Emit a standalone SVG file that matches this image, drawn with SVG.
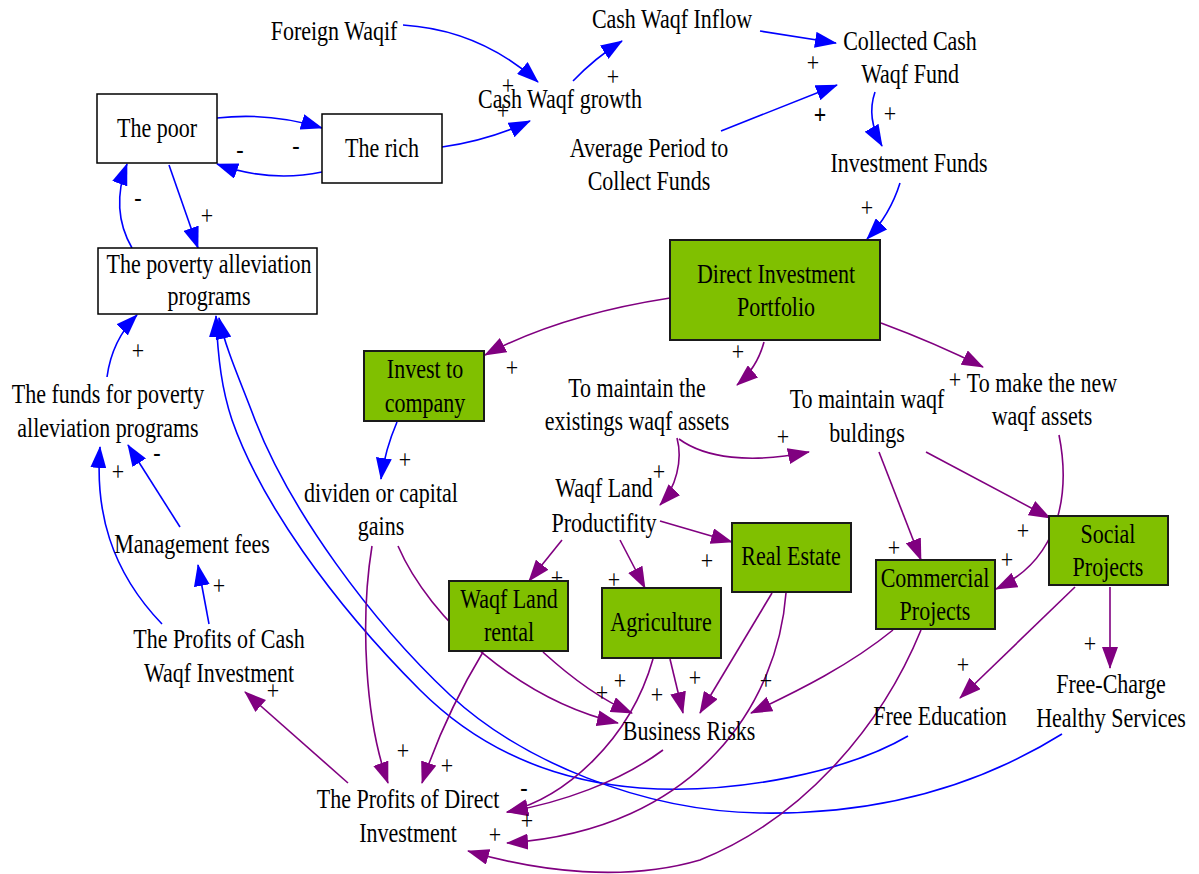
<svg xmlns="http://www.w3.org/2000/svg" width="1199" height="874" viewBox="0 0 1199 874">
<defs>
<style>
.t{font-family:"Liberation Serif","Times New Roman",serif;font-size:22px;text-anchor:middle;fill:#000}
.b{font-weight:bold}
.w{fill:#fff;stroke:#000;stroke-width:1.5}
.g{fill:#80C000;stroke:#1a1a1a;stroke-width:2}
.cb{fill:none;stroke:#0000FF;stroke-width:1.6;marker-end:url(#ab)}
.cp{fill:none;stroke:#800080;stroke-width:1.6;marker-end:url(#ap)}
</style>
<marker id="ab" markerUnits="userSpaceOnUse" markerWidth="22" markerHeight="16" viewBox="0 0 22 16" refX="21" refY="8" orient="auto"><path d="M0,0 L22,8 L0,16 Z" fill="#0000FF"/></marker>
<marker id="ap" markerUnits="userSpaceOnUse" markerWidth="22" markerHeight="16" viewBox="0 0 22 16" refX="21" refY="8" orient="auto"><path d="M0,0 L22,8 L0,16 Z" fill="#800080"/></marker>
</defs>
<rect width="1199" height="874" fill="#fff"/>

<g id="connectors">
<path class="cb" d="M403,25 Q480,30 538,82"/>
<path class="cb" d="M442,147 Q490,140 530,121"/>
<path class="cb" d="M573,81 Q595,58 622,41"/>
<path class="cb" d="M760,31 L836,43"/>
<path class="cb" d="M721,131 L837,85"/>
<path class="cb" d="M875,92 Q866,118 882,146"/>
<path class="cb" d="M900,183 Q890,215 867,239"/>
<path class="cb" d="M217,118 Q270,112 322,128"/>
<path class="cb" d="M322,172 Q270,183 217,164"/>
<path class="cb" d="M132,248 Q110,210 127,164"/>
<path class="cb" d="M169,165 L198,248"/>
<path class="cb" d="M107,377 Q112,340 137,315"/>
<path class="cb" d="M180,527 L128,445"/>
<path class="cb" d="M162,624 C110,570 95,510 100,447"/>
<path class="cb" d="M209,624 L198,565"/>
<path class="cb" d="M397,422 Q385,450 381,479"/>
<path class="cb" d="M908,736 C850,770 740,795 640,788 C540,780 470,740 420,690 C330,600 260,500 232,420 C222,390 218,360 216,316"/>
<path class="cb" d="M1062,734 C980,785 880,815 760,813 C640,811 520,760 450,695 C370,620 290,510 255,420 C240,380 226,350 219,318"/>

<path class="cp" d="M670,298 Q560,315 485,355"/>
<path class="cp" d="M764,342 Q757,368 737,385"/>
<path class="cp" d="M881,323 Q935,343 983,367"/>
<path class="cp" d="M679,439 C705,458 750,464 809,452"/>
<path class="cp" d="M677,438 C683,460 676,488 660,505"/>
<path class="cp" d="M879,452 L921,560"/>
<path class="cp" d="M926,452 L1050,518"/>
<path class="cp" d="M1059,435 C1068,480 1068,555 996,589"/>
<path class="cp" d="M660,521 L732,542"/>
<path class="cp" d="M562,540 L529,581"/>
<path class="cp" d="M620,540 L645,588"/>
<path class="cp" d="M398,546 C430,620 520,700 618,723"/>
<path class="cp" d="M372,546 C360,620 365,720 388,783"/>
<path class="cp" d="M483,652 Q445,715 422,783"/>
<path class="cp" d="M543,652 Q590,695 632,713"/>
<path class="cp" d="M670,659 L683,713"/>
<path class="cp" d="M653,659 C630,740 565,798 507,812"/>
<path class="cp" d="M772,593 L700,713"/>
<path class="cp" d="M786,593 C778,700 700,830 507,843"/>
<path class="cp" d="M893,630 C850,665 800,690 751,713"/>
<path class="cp" d="M921,630 C880,730 800,820 700,860 C625,882 540,872 468,851"/>
<path class="cp" d="M663,750 C620,782 560,803 507,812"/>
<path class="cp" d="M348,783 L245,692"/>
<path class="cp" d="M1075,587 L960,698"/>
<path class="cp" d="M1110,587 L1110,668"/>
</g>

<g id="polarity">
<text class="t" transform="translate(508,95) scale(1,1.27)">+</text>
<text class="t" transform="translate(503,120) scale(1,1.27)">+</text>
<text class="t" transform="translate(613,86) scale(1,1.27)">+</text>
<text class="t" transform="translate(813,72) scale(1,1.27)">+</text>
<text class="t b" transform="translate(820,124) scale(1,1.27)">+</text>
<text class="t" transform="translate(890,123) scale(1,1.27)">+</text>
<text class="t" transform="translate(867,217) scale(1,1.27)">+</text>
<text class="t" transform="translate(296,154) scale(1,1.27)">-</text>
<text class="t" transform="translate(240,158) scale(1,1.27)">-</text>
<text class="t" transform="translate(138,206) scale(1,1.27)">-</text>
<text class="t" transform="translate(207,225) scale(1,1.27)">+</text>
<text class="t" transform="translate(138,360) scale(1,1.27)">+</text>
<text class="t" transform="translate(157,461) scale(1,1.27)">-</text>
<text class="t" transform="translate(118,481) scale(1,1.27)">+</text>
<text class="t" transform="translate(219,595) scale(1,1.27)">+</text>
<text class="t" transform="translate(273,700) scale(1,1.27)">+</text>
<text class="t" transform="translate(512,377) scale(1,1.27)">+</text>
<text class="t" transform="translate(738,361) scale(1,1.27)">+</text>
<text class="t" transform="translate(955,389) scale(1,1.27)">+</text>
<text class="t" transform="translate(405,469) scale(1,1.27)">+</text>
<text class="t" transform="translate(783,446) scale(1,1.27)">+</text>
<text class="t" transform="translate(659,481) scale(1,1.27)">+</text>
<text class="t" transform="translate(557,587) scale(1,1.27)">+</text>
<text class="t" transform="translate(614,589) scale(1,1.27)">+</text>
<text class="t" transform="translate(707,570) scale(1,1.27)">+</text>
<text class="t" transform="translate(894,557) scale(1,1.27)">+</text>
<text class="t" transform="translate(1023,540) scale(1,1.27)">+</text>
<text class="t" transform="translate(1007,569) scale(1,1.27)">+</text>
<text class="t" transform="translate(963,674) scale(1,1.27)">+</text>
<text class="t" transform="translate(1090,653) scale(1,1.27)">+</text>
<text class="t" transform="translate(766,690) scale(1,1.27)">+</text>
<text class="t" transform="translate(695,687) scale(1,1.27)">+</text>
<text class="t" transform="translate(657,704) scale(1,1.27)">+</text>
<text class="t" transform="translate(620,690) scale(1,1.27)">+</text>
<text class="t" transform="translate(602,702) scale(1,1.27)">+</text>
<text class="t" transform="translate(403,760) scale(1,1.27)">+</text>
<text class="t" transform="translate(447,775) scale(1,1.27)">+</text>
<text class="t" transform="translate(524,796) scale(1,1.27)">-</text>
<text class="t" transform="translate(527,830) scale(1,1.27)">+</text>
<text class="t" transform="translate(495,844) scale(1,1.27)">+</text>
</g>

<g id="foreign-waqif"><text class="t" transform="translate(334,40) scale(1,1.27)">Foreign Waqif</text></g>
<g id="cash-waqf-inflow"><text class="t" transform="translate(672,28) scale(1,1.27)">Cash Waqf Inflow</text></g>
<g id="collected-cash-waqf-fund"><text class="t" transform="translate(910,50) scale(1,1.27)"><tspan x="0" y="0">Collected Cash</tspan><tspan x="0" y="26">Waqf Fund</tspan></text></g>
<g id="cash-waqf-growth"><text class="t" transform="translate(560,108) scale(1,1.27)">Cash Waqf growth</text></g>
<g id="average-period"><text class="t" transform="translate(649,157) scale(1,1.27)"><tspan x="0" y="0">Average Period to</tspan><tspan x="0" y="26">Collect Funds</tspan></text></g>
<g id="investment-funds"><text class="t" transform="translate(909,172) scale(1,1.27)">Investment Funds</text></g>
<g id="the-poor"><rect class="w" x="97" y="94" width="120" height="69"/><text class="t" transform="translate(157,137) scale(1,1.27)">The poor</text></g>
<g id="the-rich"><rect class="w" x="322" y="114" width="120" height="69"/><text class="t" transform="translate(382,157) scale(1,1.27)">The rich</text></g>
<g id="poverty-programs"><rect class="w" x="98" y="248" width="219" height="66"/><text class="t" transform="translate(209,273) scale(1,1.27)"><tspan x="0" y="0">The poverty alleviation</tspan><tspan x="0" y="25.5">programs</tspan></text></g>
<g id="direct-investment-portfolio"><rect class="g" x="670" y="240" width="210" height="100"/><text class="t" transform="translate(776,283) scale(1,1.27)"><tspan x="0" y="0">Direct Investment</tspan><tspan x="0" y="26">Portfolio</tspan></text></g>
<g id="invest-to-company"><rect class="g" x="364" y="351" width="120" height="70"/><text class="t" transform="translate(425,378) scale(1,1.27)"><tspan x="0" y="0">Invest to</tspan><tspan x="0" y="26.5">company</tspan></text></g>
<g id="funds-poverty"><text class="t" transform="translate(108,403) scale(1,1.27)"><tspan x="0" y="0">The funds for poverty</tspan><tspan x="0" y="26.5">alleviation programs</tspan></text></g>
<g id="maintain-existing"><text class="t" transform="translate(637,397) scale(1,1.27)"><tspan x="0" y="0">To maintain the</tspan><tspan x="0" y="26">existings waqf assets</tspan></text></g>
<g id="maintain-buildings"><text class="t" transform="translate(867,408) scale(1,1.27)"><tspan x="0" y="0">To maintain waqf</tspan><tspan x="0" y="26.5">buldings</tspan></text></g>
<g id="make-new"><text class="t" transform="translate(1042,392) scale(1,1.27)"><tspan x="0" y="0">To make the new</tspan><tspan x="0" y="26">waqf assets</tspan></text></g>
<g id="dividen"><text class="t" transform="translate(381,502) scale(1,1.27)"><tspan x="0" y="0">dividen or capital</tspan><tspan x="0" y="26">gains</tspan></text></g>
<g id="waqf-land-productifity"><text class="t" transform="translate(604,497) scale(1,1.27)"><tspan x="0" y="0">Waqf Land</tspan><tspan x="0" y="27.5">Productifity</tspan></text></g>
<g id="real-estate"><rect class="g" x="732" y="523" width="119" height="69"/><text class="t" transform="translate(791,565) scale(1,1.27)">Real Estate</text></g>
<g id="social-projects"><rect class="g" x="1049" y="516" width="119" height="69"/><text class="t" transform="translate(1108,543) scale(1,1.27)"><tspan x="0" y="0">Social</tspan><tspan x="0" y="26">Projects</tspan></text></g>
<g id="commercial-projects"><rect class="g" x="876" y="560" width="119" height="69"/><text class="t" transform="translate(935,587) scale(1,1.27)"><tspan x="0" y="0">Commercial</tspan><tspan x="0" y="26">Projects</tspan></text></g>
<g id="waqf-land-rental"><rect class="g" x="449" y="581" width="119" height="70"/><text class="t" transform="translate(509,608) scale(1,1.27)"><tspan x="0" y="0">Waqf Land</tspan><tspan x="0" y="26">rental</tspan></text></g>
<g id="agriculture"><rect class="g" x="602" y="588" width="119" height="70"/><text class="t" transform="translate(661,631) scale(1,1.27)">Agriculture</text></g>
<g id="management-fees"><text class="t" transform="translate(192,553) scale(1,1.27)">Management fees</text></g>
<g id="profits-cash"><text class="t" transform="translate(219,648) scale(1,1.27)"><tspan x="0" y="0">The Profits of Cash</tspan><tspan x="0" y="26.5">Waqf Investment</tspan></text></g>
<g id="business-risks"><text class="t" transform="translate(689,740) scale(1,1.27)">Business Risks</text></g>
<g id="free-education"><text class="t" transform="translate(940,725) scale(1,1.27)">Free Education</text></g>
<g id="free-charge"><text class="t" transform="translate(1111,693) scale(1,1.27)"><tspan x="0" y="0">Free-Charge</tspan><tspan x="0" y="27">Healthy Services</tspan></text></g>
<g id="profits-direct"><text class="t" transform="translate(408,808) scale(1,1.27)"><tspan x="0" y="0">The Profits of Direct</tspan><tspan x="0" y="26.5">Investment</tspan></text></g>
</svg>
